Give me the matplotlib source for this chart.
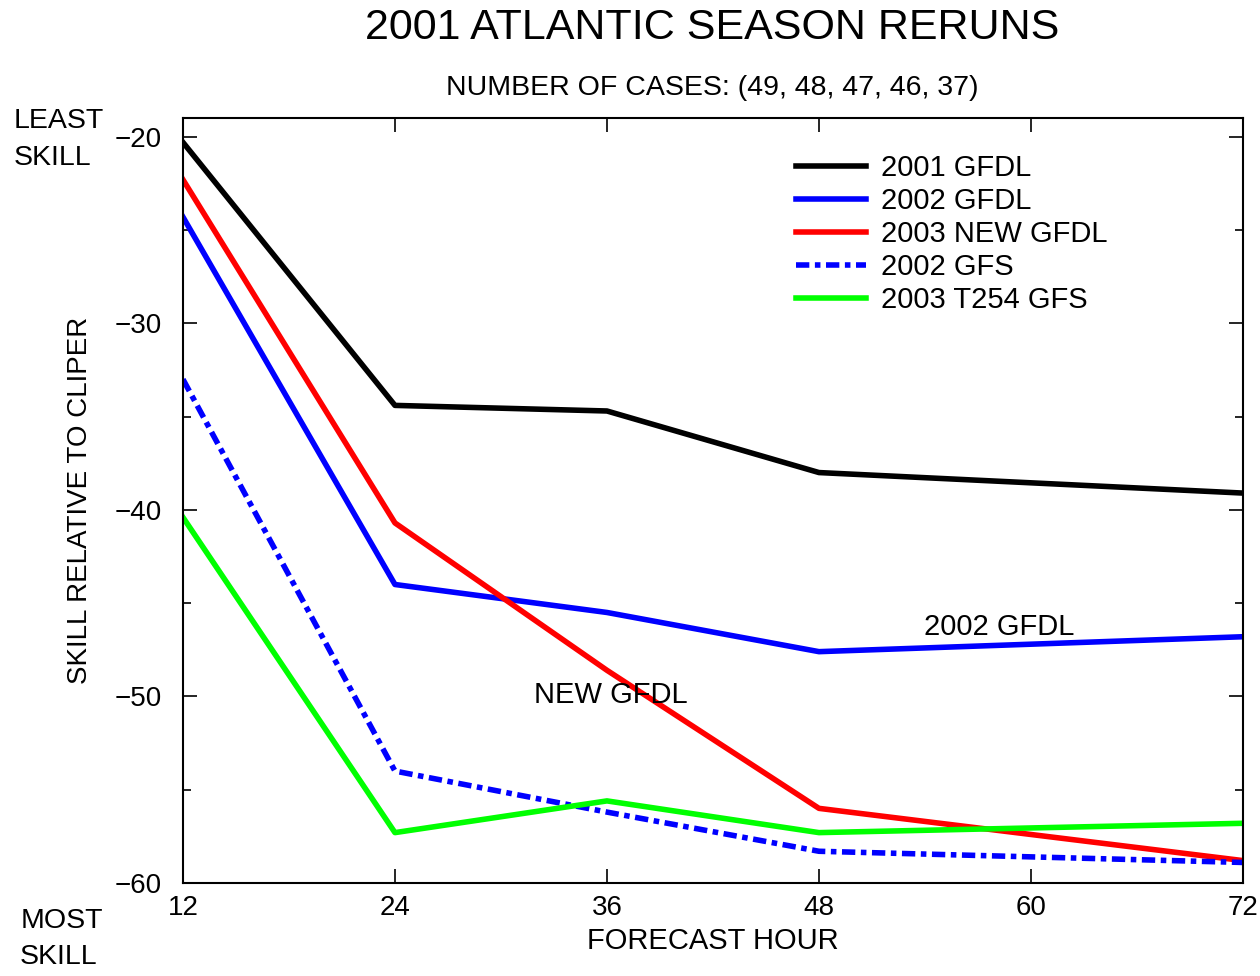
import matplotlib.pyplot as plt
from matplotlib.ticker import MultipleLocator

plt.rcParams['font.family'] = ['Liberation Sans', 'DejaVu Sans']

hours = [12, 24, 36, 48, 72]
gfdl_2001 = [-20.3, -34.4, -34.7, -38.0, -39.1]
gfdl_2002 = [-24.3, -44.0, -45.5, -47.6, -46.8]
gfdl_2003_new = [-22.3, -40.7, -48.6, -56.0, -58.8]
gfs_2002 = [-33.0, -54.0, -56.2, -58.3, -58.9]
gfs_2003_t254 = [-40.4, -57.3, -55.6, -57.3, -56.8]

fig = plt.figure(figsize=(12.6, 9.76), dpi=100)
ax = fig.add_axes([0.1452, 0.0953, 0.8413, 0.7837])

lw = 4.0
ax.plot(hours, gfdl_2001, color='black', lw=lw, label='2001 GFDL')
ax.plot(hours, gfdl_2002, color='#0000ff', lw=lw, label='2002 GFDL')
ax.plot(hours, gfdl_2003_new, color='#ff0000', lw=lw, label='2003 NEW GFDL')
ax.plot(hours, gfs_2002, color='#0000ff', lw=lw, linestyle=(0, (2.4, 1, 1, 1)),
        label='2002 GFS')
ax.plot(hours, gfs_2003_t254, color='#00ff00', lw=lw, label='2003 T254 GFS')

ax.set_xlim(12, 72)
ax.set_ylim(-60, -19)
ax.set_xticks([12, 24, 36, 48, 60, 72])
ax.set_yticks([-60, -50, -40, -30, -20])
ax.yaxis.set_minor_locator(MultipleLocator(5))
ax.set_yticklabels(['\u221260', '\u221250', '\u221240', '\u221230', '\u221220'])
ax.tick_params(which='both', direction='in', top=True, right=True,
               labelsize=20, width=1.2)
ax.tick_params(which='major', length=10)
ax.tick_params(which='minor', length=6)
ax.tick_params(axis='y', pad=15)
ax.tick_params(axis='x', pad=9)
for s in ax.spines.values():
    s.set_linewidth(1.5)

ax.set_xlabel('FORECAST HOUR', fontsize=21, labelpad=4)
ax.set_ylabel('SKILL RELATIVE TO CLIPER', fontsize=20, labelpad=16)

fig.text(0.565, 0.971, '2001 ATLANTIC SEASON RERUNS', ha='center', va='center',
         fontsize=31)
fig.text(0.565, 0.91, 'NUMBER OF CASES: (49, 48, 47, 46, 37)', ha='center',
         va='center', fontsize=20.5)
fig.text(0.011, 0.876, 'LEAST', ha='left', va='center', fontsize=20.5)
fig.text(0.011, 0.838, 'SKILL', ha='left', va='center', fontsize=20.5)
fig.text(0.016, 0.056, 'MOST', ha='left', va='center', fontsize=20.5)
fig.text(0.016, 0.019, 'SKILL', ha='left', va='center', fontsize=20.5)

ax.text(58.2, -46.3, '2002 GFDL', ha='center', va='center', fontsize=21)
ax.text(36.2, -49.9, 'NEW GFDL', ha='center', va='center', fontsize=21)

ax.legend(loc='upper left', bbox_to_anchor=(0.554, 0.987), frameon=False,
          fontsize=21, handlelength=2.4, handletextpad=0.5, labelspacing=0.17)

fig.savefig('out.png', dpi=100)
